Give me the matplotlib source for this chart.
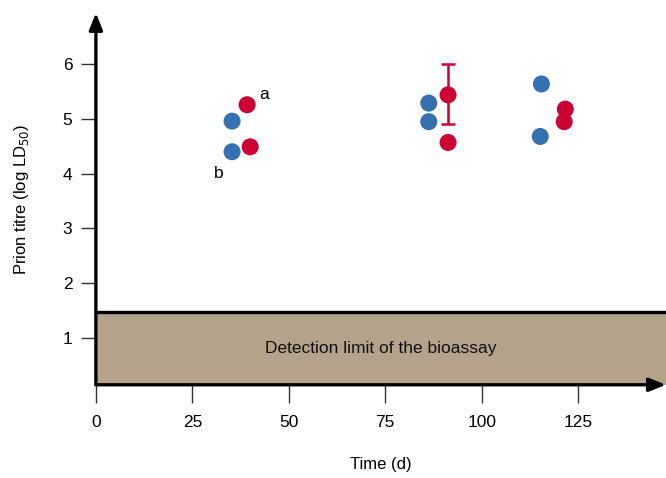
import matplotlib.pyplot as plt
from matplotlib.patches import Rectangle

plt.rcParams['font.family'] = ['Liberation Sans', 'DejaVu Sans']

# blue group (time in days, log LD50)
blue_x = [35.3, 35.3, 86.3, 86.3, 115.5, 115.2]
blue_y = [4.96, 4.40, 5.29, 4.95, 5.64, 4.68]

# red group
red_x = [39.2, 40.0, 91.3, 91.3, 121.7, 121.4]
red_y = [5.26, 4.49, 5.44, 4.57, 5.18, 4.95]

# error bar on one red point
err_x = 91.3
err_y = 5.44
err_lo = 0.54
err_hi = 0.57

detection_limit = 1.46
xticks = [0, 25, 50, 75, 100, 125]
yticks = [1, 2, 3, 4, 5, 6]

blue = '#3570b0'
red = '#cc0033'
box_col = '#b5a28a'

fig = plt.figure(figsize=(6.66, 4.78), dpi=100)
ax = fig.add_axes([0.144, 0.195, 0.856, 0.778])
xmin, xmax = 0, 147.8
ymin, ymax = 0.137, 6.94
ax.set_xlim(xmin, xmax)
ax.set_ylim(ymin, ymax)

for s in ax.spines.values():
    s.set_visible(False)

# detection limit box
ax.add_patch(Rectangle((xmin, ymin), xmax - xmin, detection_limit - ymin,
                       facecolor=box_col, edgecolor='none', zorder=1))
ax.plot([xmin, xmax], [detection_limit, detection_limit], color='black',
        lw=2.4, zorder=2, clip_on=False)
ax.text((xmin + xmax) / 2, (ymin + detection_limit) / 2,
        'Detection limit of the bioassay', ha='center', va='center',
        fontsize=12.5, color='#111111')

# axes with arrows
ax.annotate('', xy=(1.0, 0), xytext=(0, 0), xycoords='axes fraction',
            arrowprops=dict(arrowstyle='-|>,head_length=1.0,head_width=0.4',
                            lw=2.4, color='black', shrinkA=0, shrinkB=0),
            zorder=3)
ax.annotate('', xy=(0, 1.0), xytext=(0, 0), xycoords='axes fraction',
            arrowprops=dict(arrowstyle='-|>,head_length=1.0,head_width=0.4',
                            lw=2.4, color='black', shrinkA=0, shrinkB=0),
            zorder=3)

ax.set_xticks(xticks)
ax.set_yticks(yticks)
ax.tick_params(axis='both', length=11, width=1, color='#333333',
               labelsize=12.5, pad=6)
ax.tick_params(axis='x', length=13, pad=9)

ax.scatter(blue_x, blue_y, s=150, color=blue, edgecolors='none', zorder=4)
ax.scatter(red_x, red_y, s=150, color=red, edgecolors='none', zorder=5)
ax.errorbar([err_x], [err_y], yerr=[[err_lo], [err_hi]], fmt='none',
            ecolor=red, elinewidth=1.8, capsize=5, capthick=1.8, zorder=5)

ax.text(43.6, 5.45, 'a', fontsize=12.5, ha='center', va='center')
ax.text(31.9, 4.01, 'b', fontsize=12.5, ha='center', va='center')

ax.set_xlabel('Time (d)', fontsize=12, labelpad=19)
ax.set_ylabel('Prion titre (log LD$_{50}$)', fontsize=12, labelpad=23)

fig.savefig('out.png', dpi=100)
